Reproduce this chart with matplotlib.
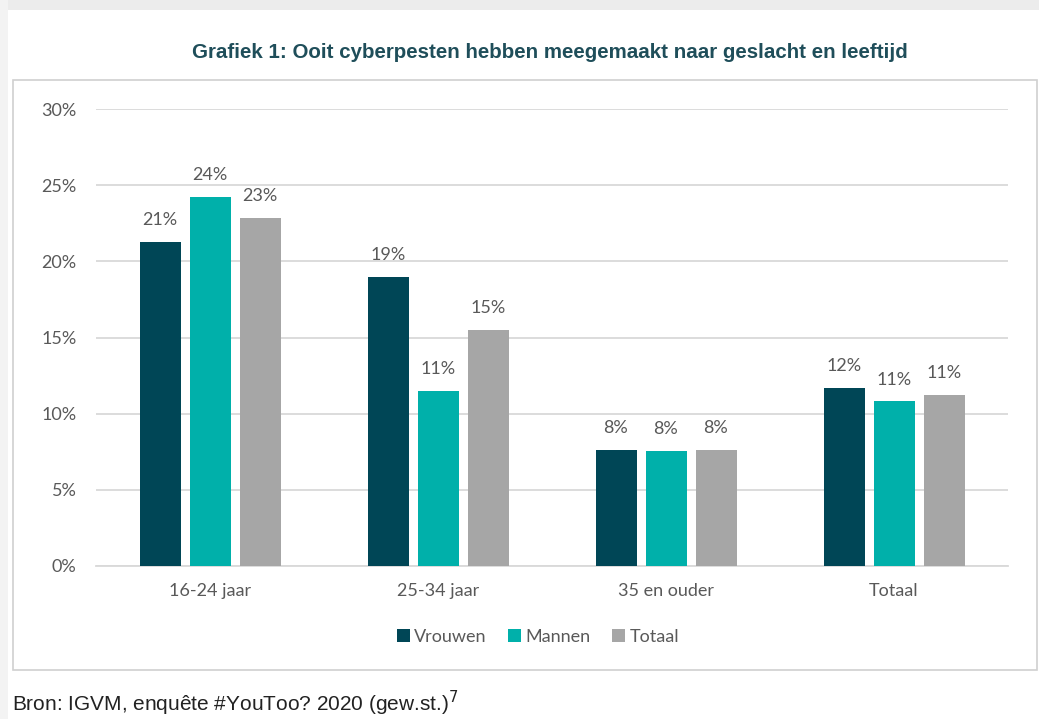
import numpy as np
import matplotlib
matplotlib.use("Agg")
import matplotlib.pyplot as plt
from matplotlib.patches import Rectangle

categories = ["16-24 jaar", "25-34 jaar", "35 en ouder", "Totaal"]
series_names = ["Vrouwen", "Mannen", "Totaal"]
vrouwen = [21.3, 19.0, 7.6, 11.7]
mannen = [24.2, 11.5, 7.55, 10.8]
totaal = [22.85, 15.5, 7.6, 11.2]
labels_vrouwen = ["21%", "19%", "8%", "12%"]
labels_mannen = ["24%", "11%", "8%", "11%"]
labels_totaal = ["23%", "15%", "8%", "11%"]
yticks = [0, 5, 10, 15, 20, 25, 30]

colors = ["#004656", "#00B0AA", "#A6A6A6"]
text_grey = "#595959"
font = ["Lato", "DejaVu Sans"]
fs = 13

W, H = 1039, 719
fig = plt.figure(figsize=(W / 100, H / 100), dpi=100)

# page shadow strips and chart box (behind the axes)
fig.patches.append(Rectangle((0, 1 - 10 / H), 1, 10 / H, transform=fig.transFigure,
                             facecolor="#ececec", edgecolor="none", zorder=-2))
fig.patches.append(Rectangle((0, 0), 8 / W, 1, transform=fig.transFigure,
                             facecolor="#f3f3f3", edgecolor="none", zorder=-2))
fig.patches.append(Rectangle((13 / W, 1 - 670 / H), 1024 / W, 590 / H,
                             transform=fig.transFigure, facecolor="white",
                             edgecolor="#d0d0d0", lw=1.2, zorder=-1))

ax = fig.add_axes([96 / W, 1 - 566 / H, 912 / W, 457 / H])
ax.set_facecolor("none")
ax.set_zorder(1)

x = np.arange(len(categories))
step = 50 / 228
width = 41 / 228
data = [vrouwen, mannen, totaal]
labs = [labels_vrouwen, labels_mannen, labels_totaal]
for i, (vals, lab) in enumerate(zip(data, labs)):
    pos = x + (i - 1) * step
    bars = ax.bar(pos, vals, width, color=colors[i], label=series_names[i], zorder=3)
    for b, t in zip(bars, lab):
        ax.annotate(t, (b.get_x() + b.get_width() / 2, b.get_height()),
                    xytext=(0, 10), textcoords="offset points", ha="center",
                    va="bottom", fontsize=fs, color=text_grey, family=font)

ax.set_xlim(-0.5, len(categories) - 0.5)
ax.set_ylim(0, 30)
ax.set_yticks(yticks)
ax.set_yticklabels([f"{v}%" for v in yticks], family=font, fontsize=fs, color=text_grey)
ax.set_xticks(x)
ax.set_xticklabels(categories, family=font, fontsize=fs, color=text_grey)
ax.tick_params(axis="y", length=0, pad=14)
ax.tick_params(axis="x", length=0, pad=12)
ax.grid(axis="y", color="#d9d9d9", lw=1.3, zorder=0)
for s in ["top", "right", "left"]:
    ax.spines[s].set_visible(False)
ax.spines["bottom"].set_color("#d9d9d9")
ax.spines["bottom"].set_linewidth(1.3)

leg = fig.legend(loc="center", bbox_to_anchor=(538 / W, 1 - 637 / H), ncol=3,
                 frameon=False, handlelength=0.7, handleheight=0.7,
                 handletextpad=0.25, columnspacing=1.2,
                 prop={"family": font, "size": fs})
for t in leg.get_texts():
    t.set_color(text_grey)

fig.text(550 / W, 1 - 52 / H, "Grafiek 1: Ooit cyberpesten hebben meegemaakt naar geslacht en leeftijd",
         ha="center", va="center", fontsize=14.8, fontweight="bold",
         color="#1F4E5A", family=["Liberation Sans", "DejaVu Sans"])
fig.text(12 / W, 1 - 703 / H, "Bron: IGVM, enquête #YouToo? 2020 (gew.st.)$^7$",
         ha="left", va="center", fontsize=15, color="#222222",
         family=["Liberation Sans", "DejaVu Sans"])

fig.savefig("out.png", dpi=100)
